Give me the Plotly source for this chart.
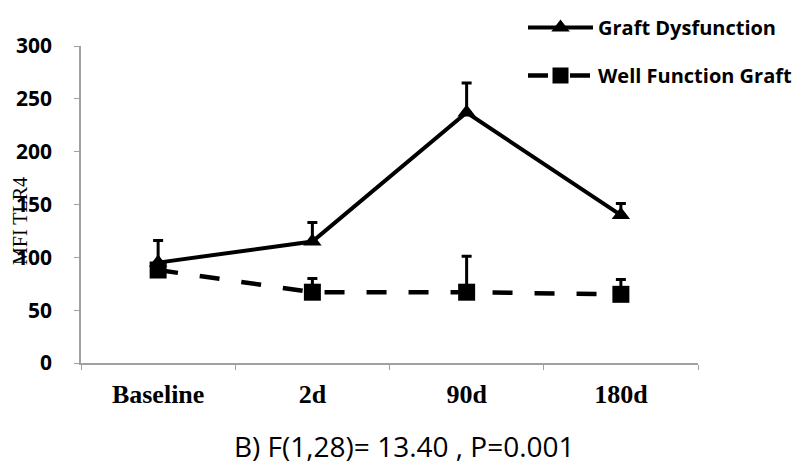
import plotly.graph_objects as go

categories = ["Baseline", "2d", "90d", "180d"]
graft_dys = [95, 115, 237, 140]
graft_dys_err = [21, 18, 28, 11]
well_func = [88, 67, 67, 65]
well_func_err = [6, 13, 34, 14]
y_ticks = [0, 50, 100, 150, 200, 250, 300]

# the page body has an 8px margin, so the figure is 8px smaller on each axis
W, H = 798, 458

fig = go.Figure()
fig.add_trace(go.Scatter(
    x=categories, y=graft_dys, name="Graft Dysfunction", mode="lines+markers",
    legendgroup="a",
    line=dict(color="black", width=4),
    marker=dict(symbol="triangle-up", size=16, color="black"),
    error_y=dict(type="data", array=graft_dys_err, arrayminus=[0]*4, symmetric=False,
                 color="black", thickness=3, width=5),
))
fig.add_trace(go.Scatter(
    x=categories, y=well_func, name="Well Function Graft", mode="lines+markers",
    legendgroup="b",
    line=dict(color="black", width=4.5, dash="20px,22px"),
    marker=dict(symbol="square", size=17, color="black"),
    error_y=dict(type="data", array=well_func_err, arrayminus=[0]*4, symmetric=False,
                 color="black", thickness=3, width=5),
))

fig.update_layout(
    width=W, height=H,
    margin=dict(l=73, r=108, t=38, b=103, autoexpand=False),
    plot_bgcolor="white", paper_bgcolor="white",
    showlegend=True,
    legend=dict(x=515/W, y=1.0, xref="container", yref="container",
                xanchor="left", yanchor="top", traceorder="grouped",
                font=dict(family="Open Sans", size=20, color="black", weight="bold"),
                itemwidth=65, tracegroupgap=19, bgcolor="rgba(0,0,0,0)"),
    xaxis=dict(type="category", range=[-0.5, 3.5], showline=True, linecolor="#a0a0a0",
               linewidth=1.5, ticks="outside", tickson="boundaries", ticklen=5,
               tickcolor="#a0a0a0", showgrid=False, zeroline=False, ticklabelstandoff=7,
               tickfont=dict(family="Liberation Serif", size=26, color="black", weight="bold")),
    yaxis=dict(range=[0, 300], tickvals=y_ticks, showline=True, linecolor="#a0a0a0",
               linewidth=1.5, ticks="outside", ticklen=5, tickcolor="#a0a0a0",
               showgrid=False, zeroline=False, ticklabelstandoff=18,
               tickfont=dict(family="Open Sans", size=21, color="black", weight="bold")),
    annotations=[
        dict(text="MFI TLR4", xref="paper", yref="paper", x=-61/617, y=0.448,
             xanchor="center", yanchor="middle", textangle=-90, showarrow=False,
             font=dict(family="Liberation Serif", size=20, color="black")),
        dict(text="B) F(1,28)= 13.40 , P=0.001", xref="paper", yref="paper",
             x=0.525, y=-0.262, xanchor="center", yanchor="middle", showarrow=False,
             font=dict(family="Open Sans", size=28, color="black")),
    ],
)
fig.write_html("out.html")
